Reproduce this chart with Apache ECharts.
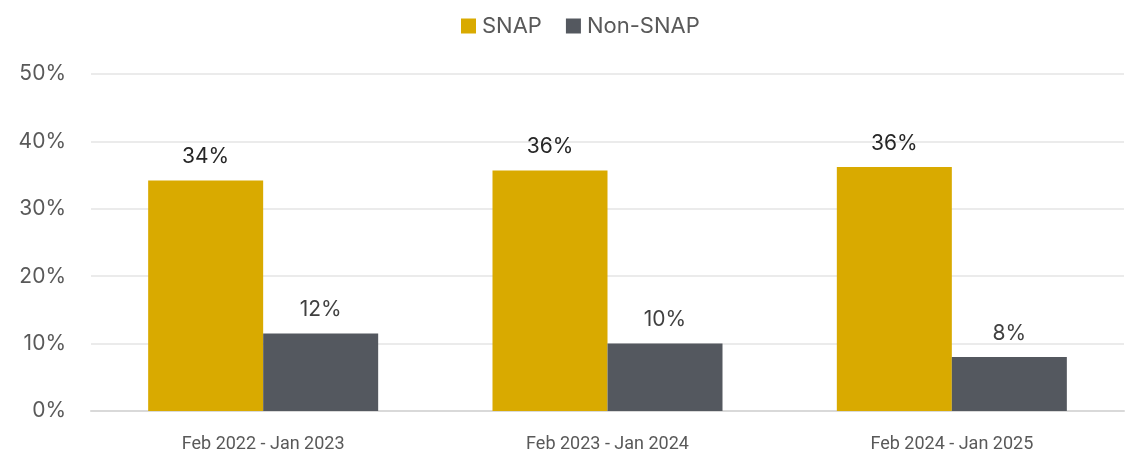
<!DOCTYPE html>
<html>
<head>
<meta charset="utf-8">
<script src="https://cdn.jsdelivr.net/npm/echarts@6/dist/echarts.min.js"></script>
<style>
  html, body { margin: 0; padding: 0; background: #ffffff; }
  #chart { width: 1130px; height: 455px; }
</style>
</head>
<body>
<div id="chart"></div>
<script>
// Periods shown along the x axis
const periods = ['Feb 2022 - Jan 2023', 'Feb 2023 - Jan 2024', 'Feb 2024 - Jan 2025'];
// Share of households, in percent
const snapValues = [34.2, 35.7, 36.2];
const nonSnapValues = [11.5, 10.0, 8.0];
// Y axis range and step, in percent
const yMin = 0;
const yMax = 50;
const yStep = 10;

const FONT = 'Inter, Roboto, "Noto Sans", Arial, sans-serif';
const FONT_NARROW = 'Roboto, "Noto Sans", Arial, sans-serif';

const chart = echarts.init(document.getElementById('chart'), null, { renderer: 'canvas' });

const valueLabel = (color) => ({
  show: true,
  position: 'top',
  distance: 13,
  fontFamily: FONT,
  fontSize: 21,
  color: color,
  formatter: (p) => Math.round(p.value) + '%'
});

chart.setOption({
  animation: false,
  backgroundColor: '#ffffff',
  textStyle: { fontFamily: FONT },
  legend: {
    top: 10,
    left: 456,
    itemWidth: 15,
    itemHeight: 15,
    itemGap: 24,
    icon: 'rect',
    textStyle: { fontFamily: FONT, fontSize: 22, color: '#595959', padding: [0, 0, 0, 1] },
    data: ['SNAP', 'Non-SNAP']
  },
  grid: {
    left: 91,
    right: 6,
    top: 74,
    bottom: 44,
    containLabel: false
  },
  xAxis: {
    type: 'category',
    data: periods,
    axisLine: { show: true, lineStyle: { color: '#d9d9d9', width: 2 } },
    axisTick: { show: false },
    axisLabel: {
      fontFamily: FONT_NARROW,
      fontSize: 18,
      color: '#595959',
      margin: 24
    }
  },
  yAxis: {
    type: 'value',
    min: yMin,
    max: yMax,
    interval: yStep,
    axisLine: { show: false },
    axisTick: { show: false },
    splitLine: { lineStyle: { color: '#ebebeb', width: 2 } },
    axisLabel: {
      fontFamily: FONT,
      fontSize: 21,
      color: '#595959',
      margin: 25,
      formatter: (v) => v + '%'
    }
  },
  series: [
    {
      name: 'SNAP',
      type: 'bar',
      data: snapValues,
      barGap: '0%',
      barCategoryGap: '33.2%',
      itemStyle: { color: '#d9aa00' },
      label: valueLabel('#262626')
    },
    {
      name: 'Non-SNAP',
      type: 'bar',
      data: nonSnapValues,
      itemStyle: { color: '#54585f' },
      label: valueLabel('#404040')
    }
  ]
});
</script>
</body>
</html>
